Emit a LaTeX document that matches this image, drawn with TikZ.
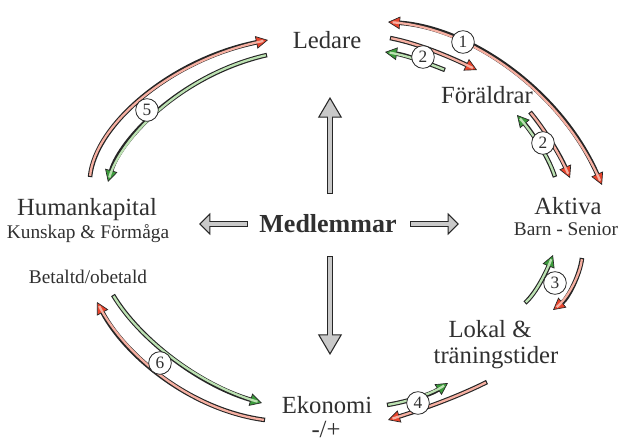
\documentclass[tikz,border=0pt]{standalone}
\usepackage{fontspec}
\setmainfont{Liberation Serif}
\usetikzlibrary{arrows.meta}
\definecolor{txt}{HTML}{303030}
\definecolor{tipred}{HTML}{E8442C}
\definecolor{lightred}{HTML}{F7B0A2}
\definecolor{tipgreen}{HTML}{3C9A3C}
\definecolor{lightgreen}{HTML}{BCE2B2}
\definecolor{barfill}{HTML}{C9C9C9}

\tikzset{
	rtip/.tip={Triangle[length=9pt,width=9.5pt,fill=tipred,line width=0.5pt]},
	gtip/.tip={Triangle[length=9pt,width=9.5pt,fill=tipgreen,line width=0.5pt]},
	vtip/.tip={Triangle[length=15.5pt,width=18pt,fill=barfill,line width=0.8pt]},
	htip/.tip={Triangle[length=8.5pt,width=16.5pt,fill=barfill,line width=0.8pt]},
	redarr/.style={draw=lightred, line width=1.7pt, shorten >=3.5pt, shorten <=0.9pt,
		preaction={draw=black!85, line width=3.4pt, shorten >=0pt, shorten <=0pt, #1}},
	redarr/.default={-rtip},
	greenarr/.style={draw=lightgreen, line width=1.7pt, shorten >=3.5pt, shorten <=0.9pt,
		preaction={draw=black!85, line width=3.4pt, shorten >=0pt, shorten <=0pt, -gtip}},
	graybar/.style={draw=barfill, line width=3pt, shorten >=5pt, shorten <=1pt,
		preaction={draw=black!85, line width=5.2pt, shorten >=0pt, shorten <=0pt, #1}},
	lbl/.style={text=txt, inner sep=0pt, font=\fontsize{18.5}{20}\selectfont},
	sub/.style={text=txt, inner sep=0pt, font=\fontsize{14.5}{16}\selectfont},
	num/.style={circle, draw=black!85, fill=white, line width=0.6pt, inner sep=0pt,
		minimum size=17pt, text=txt, font=\fontsize{13}{14}\selectfont}
}

\begin{document}
\begin{tikzpicture}[x=0.75pt,y=-0.75pt]
	\useasboundingbox (0,0) rectangle (619,443);

	% labels
	\node[lbl, anchor=base] (ledare) at (327,48) {Ledare};
	\node[lbl, anchor=base] (foraldrar) at (487,103) {Föräldrar};
	\node[lbl, anchor=base] (aktiva) at (568,214) {Aktiva};
	\node[sub, anchor=base] (barn) at (566,235) {Barn - Senior};
	\node[lbl, anchor=base] (lokal) at (490,337) {Lokal \&};
	\node[lbl, anchor=base] (traning) at (496,363) {träningstider};
	\node[lbl, anchor=base] (ekonomi) at (327,413) {Ekonomi};
	\node[lbl, anchor=base] (plusminus) at (326,437) {-/+};
	\node[lbl, anchor=base] (human) at (87,215) {Humankapital};
	\node[sub, anchor=base] (kunskap) at (88,238) {Kunskap \& Förmåga};
	\node[sub, anchor=base] (betald) at (88,283) {Betaltd/obetald};
	\node[lbl, font=\fontsize{19.5}{21}\selectfont\bfseries] (medl) at (328,224) {Medlemmar};

	% gray arrows out of the centre
	\draw[graybar={-vtip}] ([shift={(2,-30)}]medl.center) -- ([shift={(3,49)}]ledare.base);
	\draw[graybar={-vtip}] ([shift={(2,32)}]medl.center) -- ([shift={(3,-58)}]ekonomi.base);
	\draw[graybar={-htip}] ([shift={(82,0)}]medl.center) -- ([shift={(-109,10)}]aktiva.base);
	\draw[graybar={-htip}] ([shift={(-80,0)}]medl.center) -- ([shift={(112,9)}]human.base);

	% arrow ends
	\coordinate (r1a) at (388,22);  \coordinate (r1b) at (602,185);
	\coordinate (r2a) at (390,38);  \coordinate (r2b) at (477,70);
	\coordinate (g2a) at (445,70);  \coordinate (g2b) at (385,52);
	\coordinate (r2c) at (530,112); \coordinate (r2d) at (570,178);
	\coordinate (g2c) at (555,177); \coordinate (g2d) at (517,115);
	\coordinate (g3a) at (525,303); \coordinate (g3b) at (553,255);
	\coordinate (r3a) at (582,258); \coordinate (r3b) at (553,310);
	\coordinate (g4a) at (387,405); \coordinate (g4b) at (448,383);
	\coordinate (r4a) at (487,382); \coordinate (r4b) at (388,420);
	\coordinate (r5a) at (90,177);  \coordinate (r5b) at (268,40);
	\coordinate (g5a) at (267,55);  \coordinate (g5b) at (108,182);
	\coordinate (r6a) at (265,420); \coordinate (r6b) at (97,302);
	\coordinate (g6a) at (113,295); \coordinate (g6b) at (262,403);

	% flows
	\draw[redarr={rtip-rtip}, shorten <=3.5pt] (r1a) .. controls (470,28) and (560,90) .. (r1b);
	\draw[redarr] (r2a) .. controls (420,44) and (450,57) .. (r2b);
	\draw[greenarr] (g2a) .. controls (425,62) and (405,55) .. (g2b);
	\draw[redarr] (r2c) .. controls (545,130) and (560,155) .. (r2d);
	\draw[greenarr] (g2c) .. controls (548,155) and (530,130) .. (g2d);
	\draw[greenarr] (g3a) .. controls (537,292) and (547,270) .. (g3b);
	\draw[redarr] (r3a) .. controls (580,275) and (568,298) .. (r3b);
	\draw[greenarr] (g4a) .. controls (405,402) and (430,395) .. (g4b);
	\draw[redarr] (r4a) .. controls (455,398) and (420,410) .. (r4b);
	\draw[redarr] (r5a) .. controls (95,125) and (170,60) .. (r5b);
	\draw[greenarr] (g5a) .. controls (180,75) and (120,140) .. (g5b);
	\draw[redarr] (r6a) .. controls (190,410) and (125,355) .. (r6b);
	\draw[greenarr] (g6a) .. controls (140,340) and (200,385) .. (g6b);

	% numbers
	\node[num] (n1) at (463,42) {1};
	\node[num] (n2a) at (423,57) {2};
	\node[num] (n2b) at (543,143) {2};
	\node[num] (n3) at (555,283) {3};
	\node[num] (n4) at (418,403) {4};
	\node[num] (n5) at (147,110) {5};
	\node[num] (n6) at (160,363) {6};
\end{tikzpicture}
\end{document}
